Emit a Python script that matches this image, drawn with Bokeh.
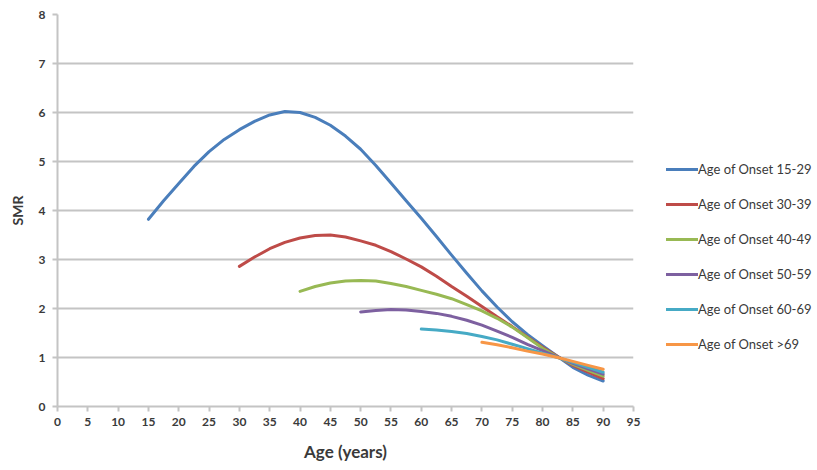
from bokeh.plotting import figure
from bokeh.models import Range1d, FixedTicker, Legend, LegendItem, ColumnDataSource
from bokeh.embed import file_html
from bokeh.resources import INLINE

# Standardised mortality ratio by attained age, one curve per age-of-onset group
age_15_29 = [15, 17.5, 20, 22.5, 25, 27.5, 30, 32.5, 35, 37.5, 40, 42.5, 45, 47.5, 50, 52.5,
             55, 57.5, 60, 62.5, 65, 67.5, 70, 72.5, 75, 77.5, 80, 82.5, 85, 87.5, 90]
smr_15_29 = [3.82, 4.2, 4.55, 4.9, 5.2, 5.45, 5.65, 5.82, 5.95, 6.02, 6.0, 5.9, 5.74, 5.52, 5.25, 4.92,
             4.56, 4.2, 3.84, 3.47, 3.09, 2.72, 2.36, 2.03, 1.73, 1.47, 1.24, 1.02, 0.8, 0.64, 0.52]

age_30_39 = [30, 32.5, 35, 37.5, 40, 42.5, 45, 47.5, 50, 52.5, 55, 57.5, 60, 62.5, 65, 67.5,
             70, 72.5, 75, 77.5, 80, 82.5, 85, 87.5, 90]
smr_30_39 = [2.86, 3.05, 3.22, 3.35, 3.44, 3.49, 3.5, 3.46, 3.38, 3.29, 3.16, 3.01, 2.85, 2.66, 2.45, 2.25,
             2.04, 1.83, 1.63, 1.42, 1.21, 1.02, 0.84, 0.7, 0.57]

age_40_49 = [40, 42.5, 45, 47.5, 50, 52.5, 55, 57.5, 60, 62.5, 65, 67.5, 70, 72.5, 75, 77.5,
             80, 82.5, 85, 87.5, 90]
smr_40_49 = [2.35, 2.45, 2.52, 2.56, 2.57, 2.56, 2.51, 2.45, 2.37, 2.29, 2.2, 2.08, 1.95, 1.8, 1.62, 1.41,
             1.19, 1.01, 0.86, 0.74, 0.62]

age_50_59 = [50, 52.5, 55, 57.5, 60, 62.5, 65, 67.5, 70, 72.5, 75, 77.5, 80, 82.5, 85, 87.5, 90]
smr_50_59 = [1.93, 1.96, 1.98, 1.97, 1.94, 1.9, 1.84, 1.76, 1.66, 1.54, 1.41, 1.27, 1.14, 1.01, 0.88,
             0.77, 0.66]

age_60_69 = [60, 62.5, 65, 67.5, 70, 72.5, 75, 77.5, 80, 82.5, 85, 87.5, 90]
smr_60_69 = [1.58, 1.56, 1.53, 1.49, 1.43, 1.36, 1.27, 1.18, 1.09, 1.0, 0.9, 0.8, 0.7]

age_over_69 = [70, 72.5, 75, 77.5, 80, 82.5, 85, 87.5, 90]
smr_over_69 = [1.31, 1.26, 1.2, 1.13, 1.07, 1.0, 0.92, 0.84, 0.76]

series_labels = ["Age of Onset 15-29", "Age of Onset 30-39", "Age of Onset 40-49",
                 "Age of Onset 50-59", "Age of Onset 60-69", "Age of Onset >69"]
series_ages = [age_15_29, age_30_39, age_40_49, age_50_59, age_60_69, age_over_69]
series_smr = [smr_15_29, smr_30_39, smr_40_49, smr_50_59, smr_60_69, smr_over_69]
series_colors = ["#4A7EBB", "#BE4B48", "#98B954", "#7D60A0", "#46AAC5", "#F79646"]

x_ticks = list(range(0, 100, 5))
y_ticks = list(range(0, 9))

FONT = "Lato"
TEXT = "#3a3a3a"
GRID = "#c4c4c4"

p = figure(frame_width=576, frame_height=392, output_backend="svg", toolbar_location=None,
           x_range=Range1d(0, 95), y_range=Range1d(0, 8),
           min_border_left=57, min_border_right=184, min_border_top=14, min_border_bottom=64)
p.outline_line_color = None
p.background_fill_color = "white"

# axes
p.xaxis.ticker = FixedTicker(ticks=x_ticks)
p.yaxis.ticker = FixedTicker(ticks=y_ticks)
for ax in (p.xaxis[0], p.yaxis[0]):
    ax.axis_line_color = GRID
    ax.axis_line_width = 2
    ax.major_tick_line_color = GRID
    ax.major_tick_line_width = 2
    ax.major_tick_out = 5
    ax.major_tick_in = 0
    ax.minor_tick_line_color = None
    ax.major_label_text_font = FONT
    ax.major_label_text_font_style = "bold"
    ax.major_label_text_font_size = "12px"
    ax.major_label_text_color = TEXT
    ax.axis_label_text_font = FONT
    ax.axis_label_text_font_style = "bold"
    ax.axis_label_text_color = TEXT

p.xaxis.axis_label = "Age (years)"
p.xaxis.axis_label_text_font_size = "17px"
p.xaxis.major_label_standoff = 6
p.xaxis.axis_label_standoff = 12
p.yaxis.axis_label = "SMR"
p.yaxis.axis_label_text_font_size = "14px"
p.yaxis.major_label_standoff = 7
p.yaxis.axis_label_standoff = 10

p.xgrid.grid_line_color = None
p.ygrid.grid_line_color = GRID
p.ygrid.grid_line_width = 2

items = []
for label, ages, smr, color in zip(series_labels, series_ages, series_smr, series_colors):
    src = ColumnDataSource(dict(age=ages, smr=smr))
    r = p.line("age", "smr", source=src, line_color=color, line_width=3,
               line_join="round", line_cap="round")
    items.append(LegendItem(label=label, renderers=[r]))

legend = Legend(items=items, location=(33, 52), orientation="vertical",
                margin=0, padding=0, spacing=15, glyph_width=32, glyph_height=20,
                label_height=20, label_standoff=0,
                label_text_font=FONT, label_text_font_size="13px", label_text_color=TEXT,
                border_line_color=None, background_fill_alpha=0)
p.add_layout(legend, "right")

open("out.html", "w").write(file_html(p, INLINE))
